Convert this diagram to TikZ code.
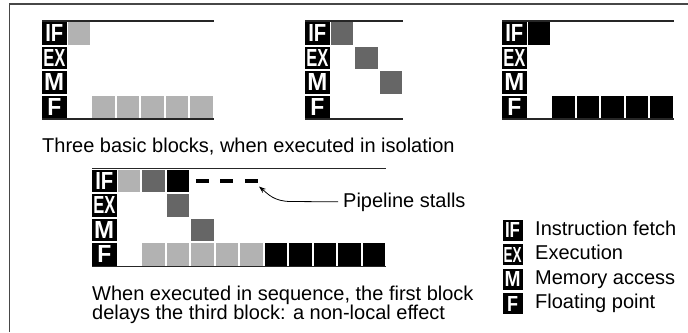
\documentclass[tikz,border=0pt]{standalone}
\usepackage{graphicx}
\usepackage{fontspec}
\setmainfont{Liberation Sans}
\usetikzlibrary{arrows.meta}
\definecolor{lightc}{gray}{0.70}
\definecolor{darkc}{gray}{0.40}
\definecolor{framec}{gray}{0.28}
\newcommand\lettr[3]{\resizebox{#1}{#2}{\bfseries #3}}
% #1 prefix, #2 x0, #3 y0, #4 number of columns
\newcommand\pblock[4]{%
  \foreach \r/\t/\w in {0/IF/18,1/EX/22,2/M/20,3/F/14}{%
    \node[rowlab] (#1\t) at ({#2+12.25},{#3+\r*24.5+12.25}) {\lettr{\w bp}{17bp}{\t}};
  }
  \draw[blockline] (#2,#3) -- ({#2+24.5*(#4+1)},#3);
  \draw[blockline] (#2,{#3+98}) -- ({#2+24.5*(#4+1)},{#3+98});
}
% #1 x0, #2 y0, #3 col, #4 row, #5 colour
\newcommand\pcell[5]{\fill[#5] ({#1+24.5+#3*24.5+1.25},{#2+#4*24.5+1}) rectangle ++(22.5,22.5);}
\begin{document}
\begin{tikzpicture}[x=1bp,y=-1bp,
  font=\fontsize{20bp}{18bp}\selectfont,
  rowlab/.style={fill=black,text=white,inner sep=0pt,minimum width=24.5bp,minimum height=22.5bp},
  leglab/.style={fill=black,text=white,inner sep=0pt,minimum width=20bp,minimum height=21bp},
  blockline/.style={line width=1.5bp,draw=black!85},
  txt/.style={inner sep=0pt,anchor=base west},
  stallbar/.style={line width=4bp},
  arrowline/.style={line width=0.8bp,-{Stealth[length=7bp,width=5bp]}}]
\useasboundingbox (0,0) rectangle (688,332);
% outer frame
\draw[framec,line width=1.5bp] (9.5,332) -- (9.5,4) -- (688,4);

% block 1
\pblock{a}{42}{21}{6}
\pcell{42}{21}{0}{0}{lightc}
\foreach \c in {1,...,5}{\pcell{42}{21}{\c}{3}{lightc}}

% block 2
\pblock{b}{305}{21}{3}
\pcell{305}{21}{0}{0}{darkc}
\pcell{305}{21}{1}{1}{darkc}
\pcell{305}{21}{2}{2}{darkc}

% block 3
\pblock{c}{502}{21}{6}
\pcell{502}{21}{0}{0}{black}
\foreach \c in {1,...,5}{\pcell{502}{21}{\c}{3}{black}}

\node[txt] (cap1) at (42,152) {Three basic blocks, when executed in isolation};

% combined block
\pblock{d}{92}{168.5}{11}
\pcell{92}{168.5}{0}{0}{lightc}
\pcell{92}{168.5}{1}{0}{darkc}
\pcell{92}{168.5}{2}{0}{black}
\pcell{92}{168.5}{2}{1}{darkc}
\pcell{92}{168.5}{3}{2}{darkc}
\foreach \c in {1,...,5}{\pcell{92}{168.5}{\c}{3}{lightc}}
\foreach \c in {6,...,10}{\pcell{92}{168.5}{\c}{3}{black}}
\foreach \c in {3,4,5}{\draw[stallbar] ({92+24.5+\c*24.5+12.25-6.5},181) -- ++(13,0);}

\node[txt] (stalltxt) at (343,207) {Pipeline stalls};
\coordinate (stalltip) at (259,186.5);
\draw[arrowline] ([xshift=-5bp]stalltxt.west) -- (291,201.5) .. controls (274,201.5) and (268,194) .. (stalltip);

\node[inner sep=0pt,anchor=north west,align=left] (cap2) at (92,285.3)
  {When executed in sequence, the first block\\delays the third block: a non-local effect};

% legend
\node[leglab] (lgIF) at (512.5,230) {\lettr{15bp}{15bp}{IF}};
\node[leglab] (lgEX) at (512.5,254.5) {\lettr{18bp}{15bp}{EX}};
\node[leglab] (lgM) at (512.5,279) {\lettr{16bp}{15bp}{M}};
\node[leglab] (lgF) at (512.5,303.5) {\lettr{11bp}{15bp}{F}};
\node[txt] (lgtIF) at (535,235) {Instruction fetch};
\node[txt] (lgtEX) at (535,259.5) {Execution};
\node[txt] (lgtM) at (535,284) {Memory access};
\node[txt] (lgtF) at (535,308.5) {Floating point};
\end{tikzpicture}
\end{document}
